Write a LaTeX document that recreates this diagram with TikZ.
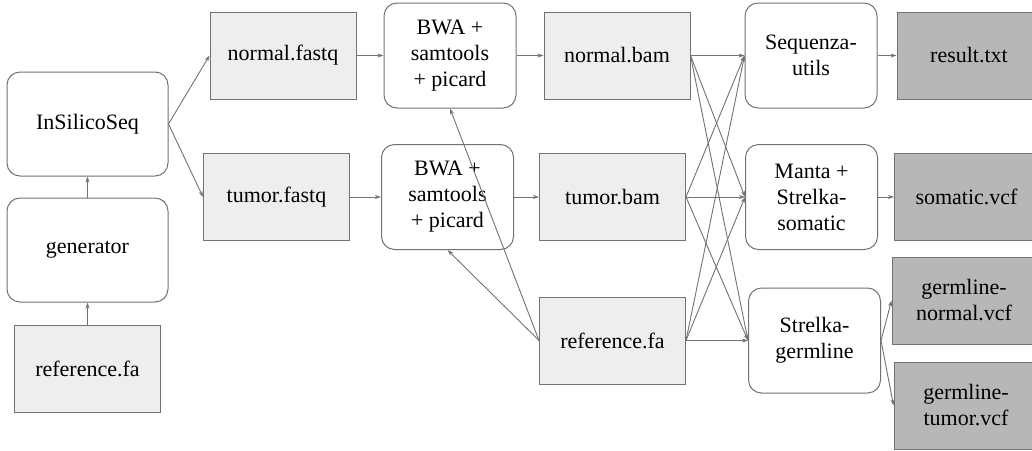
\documentclass[tikz,border=0pt]{standalone}
\usepackage{fontspec}
\setmainfont{Liberation Serif}
\usepackage{tikz}
\usetikzlibrary{arrows.meta, positioning}
\definecolor{filecolor}{HTML}{EEEEEE}
\definecolor{outcolor}{HTML}{B7B7B7}
\definecolor{linecolor}{HTML}{727272}

\begin{document}
\begin{tikzpicture}[
    x=1pt, y=1pt,
    tool/.style={draw=linecolor, line width=1pt, rounded corners=13pt, minimum width=132pt, minimum height=105pt, align=center, font=\fontsize{22}{26}\selectfont},
    bigtool/.style={tool, minimum width=161pt, minimum height=104pt},
    file/.style={draw=linecolor, line width=1pt, fill=filecolor, minimum width=146pt, minimum height=87pt, align=center, font=\fontsize{22}{26}\selectfont},
    result/.style={file, fill=outcolor, minimum width=144pt},
    arrow/.style={-{Stealth[length=6pt, width=4pt]}, draw=linecolor, line width=0.9pt}
]
    \useasboundingbox (0,0) rectangle (1032,-450);

    % input side
    \node[bigtool] (ins) at (87.5,-124) {InSilicoSeq};
    \node[bigtool, below=21pt of ins] (gen) {generator};
    \node[file, below=22pt of gen] (reff) {reference.fa};

    % alignment
    \node[file] (nfq) at (283,-55.5) {normal.fastq};
    \node[tool, right=27pt of nfq] (bwan) {BWA +\\samtools\\+ picard};
    \node[file, right=27pt of bwan] (nbam) {normal.bam};
    \node[file] (tfq) at (276.5,-197) {tumor.fastq};
    \node[tool, right=31pt of tfq] (bwat) {BWA +\\samtools\\+ picard};
    \node[file, right=25pt of bwat] (tbam) {tumor.bam};
    \node[file, below=55.5pt of tbam] (rfa) {reference.fa};

    % callers
    \node[tool, right=54pt of nbam] (seqz) {Sequenza-\\utils};
    \node[tool, right=59pt of tbam] (manta) {Manta +\\Strelka-\\somatic};
    \node[tool, right=62pt of rfa] (germ) {Strelka-\\germline};

    % outputs
    \node[result, right=19pt of seqz] (res) {result.txt};
    \node[result, right=16pt of manta] (som) {somatic.vcf};
    \node[result] (gnor) at (964,-300.5) {germline-\\normal.vcf};
    \node[result, below=17pt of gnor, xshift=2pt] (gtum) {germline-\\tumor.vcf};

    \draw[arrow] (reff) -- (gen);
    \draw[arrow] (gen) -- (ins);
    \draw[arrow] (ins.east) -- (nfq.west);
    \draw[arrow] (ins.east) -- (tfq.west);
    \draw[arrow] (nfq) -- (bwan);
    \draw[arrow] (tfq) -- (bwat);
    \draw[arrow] (bwan) -- (nbam);
    \draw[arrow] (bwat) -- (tbam);
    \draw[arrow] (rfa.west) -- (bwan.south);
    \draw[arrow] (rfa.west) -- (bwat.south);

    \draw[arrow] (nbam.east) -- (seqz.west);
    \draw[arrow] (nbam.east) -- (manta.west);
    \draw[arrow] (nbam.east) -- (germ.west);
    \draw[arrow] (tbam.east) -- (seqz.west);
    \draw[arrow] (tbam.east) -- (manta.west);
    \draw[arrow] (tbam.east) -- (germ.west);
    \draw[arrow] (rfa.east) -- (seqz.west);
    \draw[arrow] (rfa.east) -- (manta.west);
    \draw[arrow] (rfa.east) -- (germ.west);

    \draw[arrow] (seqz) -- (res);
    \draw[arrow] (manta) -- (som);
    \draw[arrow] (germ.east) -- (gnor.west);
    \draw[arrow] (germ.east) -- (gtum.west);
\end{tikzpicture}
\end{document}
